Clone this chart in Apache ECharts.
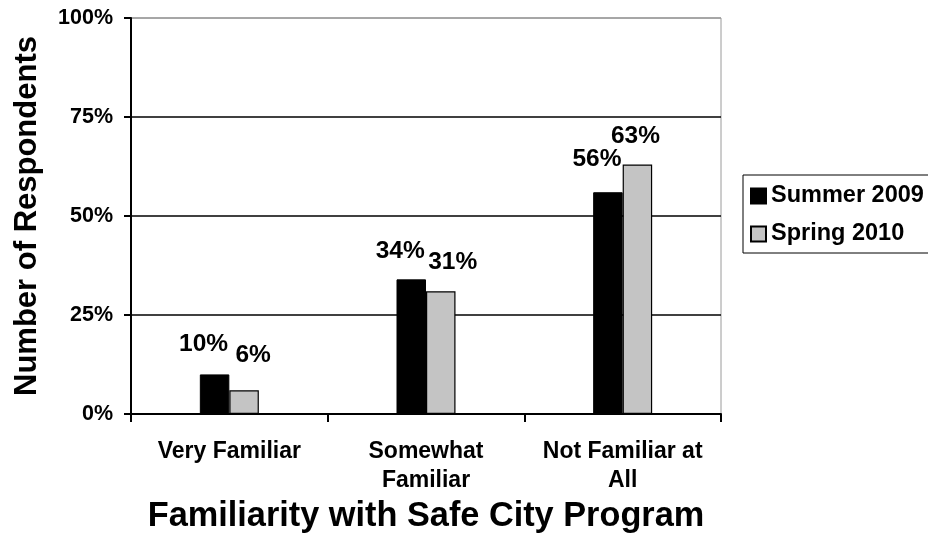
<!DOCTYPE html>
<html>
<head>
<meta charset="utf-8">
<script src="https://cdn.jsdelivr.net/npm/echarts@6/dist/echarts.min.js"></script>
<style>
html,body{margin:0;padding:0;background:#fff;}
#chart{width:928px;height:549px;}
</style>
</head>
<body>
<div id="chart"></div>
<script>
const categories = ["Very Familiar", "Somewhat\nFamiliar", "Not Familiar at\nAll"];
const summer2009 = [10, 34, 56];
const spring2010 = [6, 31, 63];
const seriesNames = ["Summer 2009", "Spring 2010"];
const yTicks = [0, 25, 50, 75, 100];

// label nudges (style only)
const summerLabelOffsets = [[-11, -13], [-11, -11], [-11, -15]];
const springLabelOffsets = [[9, -17], [12, -11], [-2, -11]];

const FONT = '"Liberation Sans", Arial, Helvetica, sans-serif';

function withOffsets(values, offsets) {
  return values.map((v, i) => ({ value: v, label: { offset: offsets[i] } }));
}

const chart = echarts.init(document.getElementById('chart'), null, { renderer: 'canvas' });
chart.setOption({
  backgroundColor: '#ffffff',
  animation: false,
  textStyle: { fontFamily: FONT },
  grid: {
    left: 131, right: 207, top: 18, bottom: 135,
    show: true, borderColor: '#9a9a9a', borderWidth: 1, backgroundColor: 'transparent'
  },
  legend: {
    orient: 'vertical',
    left: 743, top: 175,
    padding: [9, 30, 7, 7],
    itemGap: 14,
    itemWidth: 15, itemHeight: 15,
    borderColor: '#000', borderWidth: 1,
    icon: 'rect',
    data: seriesNames,
    textStyle: { fontFamily: FONT, fontWeight: 'bold', fontSize: 23.5, color: '#000', lineHeight: 24 }
  },
  xAxis: {
    type: 'category',
    data: categories,
    name: 'Familiarity with Safe City Program',
    nameLocation: 'middle',
    nameGap: 78,
    nameTextStyle: { fontFamily: FONT, fontWeight: 'bold', fontSize: 34.3, color: '#000' },
    axisLine: { lineStyle: { color: '#000', width: 2 } },
    axisTick: { show: true, length: 8, lineStyle: { color: '#000', width: 2 } },
    axisLabel: { interval: 0, margin: 23, fontFamily: FONT, fontWeight: 'bold', fontSize: 23, lineHeight: 29, color: '#000' },
    splitLine: { show: false }
  },
  yAxis: {
    type: 'value',
    min: 0, max: 100, interval: 25,
    name: 'Number of Respondents',
    nameLocation: 'middle',
    nameGap: 88,
    nameTextStyle: { fontFamily: FONT, fontWeight: 'bold', fontSize: 31, color: '#000' },
    axisLine: { show: true, lineStyle: { color: '#000', width: 2 } },
    axisTick: { show: true, length: 7, lineStyle: { color: '#000', width: 2 } },
    axisLabel: {
      margin: 18, fontFamily: FONT, fontWeight: 'bold', fontSize: 21.5, color: '#000',
      formatter: function (v) { return yTicks.indexOf(v) >= 0 ? v + '%' : ''; }
    },
    splitLine: { show: true, lineStyle: { color: ['#000', '#000', '#000', '#000', '#9a9a9a'], width: 1.5 } }
  },
  series: [
    {
      name: seriesNames[0], type: 'bar',
      data: withOffsets(summer2009, summerLabelOffsets),
      barGap: '0%', barCategoryGap: '70%',
      itemStyle: { color: '#000', borderColor: '#000', borderWidth: 1 },
      label: { show: true, position: 'top', distance: 5, formatter: '{c}%', fontFamily: FONT, fontWeight: 'bold', fontSize: 24.5, color: '#000' }
    },
    {
      name: seriesNames[1], type: 'bar',
      data: withOffsets(spring2010, springLabelOffsets),
      barGap: '0%', barCategoryGap: '70%',
      itemStyle: { color: '#c4c4c4', borderColor: '#000', borderWidth: 1.2 },
      label: { show: true, position: 'top', distance: 5, formatter: '{c}%', fontFamily: FONT, fontWeight: 'bold', fontSize: 24.5, color: '#000' }
    }
  ]
});
</script>
</body>
</html>
